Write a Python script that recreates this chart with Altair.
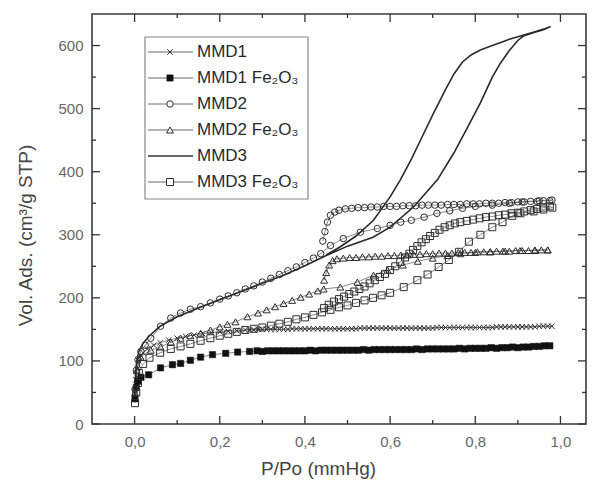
import altair as alt
import pandas as pd

# ---------------- data ----------------
series_names = ["MMD1", "MMD1 Fe₂O₃", "MMD2", "MMD2 Fe₂O₃", "MMD3", "MMD3 Fe₂O₃"]

# MMD1 (x markers)
mmd1_p_ads = [0.001, 0.003, 0.006, 0.01, 0.015, 0.02, 0.03, 0.045, 0.06, 0.08, 0.1, 0.12, 0.14, 0.16, 0.18,
              0.2, 0.22, 0.24,
              0.26, 0.28, 0.3, 0.32, 0.34, 0.36, 0.38, 0.4, 0.42, 0.44, 0.46, 0.48, 0.5, 0.52, 0.54, 0.56,
              0.58, 0.6, 0.62, 0.64, 0.66, 0.68, 0.7, 0.72, 0.74, 0.76, 0.78, 0.8, 0.82, 0.84, 0.86, 0.88,
              0.9, 0.92, 0.94, 0.96, 0.98]
mmd1_v_ads = [45, 70, 88, 100, 108, 113, 119, 125, 129, 133, 136, 139, 141, 143, 145, 146, 147, 148,
              149, 149, 150, 150, 150, 150, 151, 151, 151, 151, 151, 151, 151, 151, 152, 152,
              152, 152, 152, 152, 152, 152, 152, 153, 153, 153, 153, 153, 153, 153, 154, 154,
              154, 154, 154, 155, 155]
mmd1_p_des = [0.97, 0.95, 0.93, 0.91, 0.89, 0.87, 0.85, 0.83, 0.81, 0.79, 0.77, 0.75, 0.73, 0.71, 0.69,
              0.67, 0.65, 0.63, 0.61, 0.59, 0.57, 0.55, 0.53, 0.51, 0.49, 0.47, 0.45, 0.43, 0.41, 0.39,
              0.37, 0.35, 0.33, 0.31, 0.29, 0.27]
mmd1_v_des = [155, 155, 154, 154, 154, 154, 154, 153, 153, 153, 153, 153, 153, 153, 152,
              152, 152, 152, 152, 152, 152, 152, 152, 151, 151, 151, 151, 151, 151, 151,
              151, 150, 150, 150, 150, 149]

# MMD1 Fe2O3 (filled squares)
mmd1fe_p_ads = [0.001, 0.004, 0.008, 0.015, 0.033, 0.061, 0.089, 0.108, 0.131, 0.155, 0.183, 0.214, 0.242,
                0.27, 0.3, 0.325, 0.35, 0.375, 0.4, 0.425, 0.45, 0.475, 0.5, 0.525, 0.55, 0.575, 0.6, 0.625,
                0.65, 0.675, 0.7, 0.725, 0.75, 0.775, 0.8, 0.825, 0.85, 0.875, 0.9, 0.925, 0.95, 0.975]
mmd1fe_v_ads = [40, 58, 68, 74, 78, 89, 94, 96, 101, 106, 110, 112, 114,
                115, 115, 116, 116, 116, 116, 116, 117, 117, 117, 117, 117, 118, 118, 118,
                118, 118, 119, 119, 119, 119, 120, 120, 120, 121, 121, 122, 123, 124]
mmd1fe_p_des = [0.9625, 0.9375, 0.9125, 0.8875, 0.8625, 0.8375, 0.8125, 0.7875, 0.7625, 0.7375, 0.7125,
                0.6875, 0.6625, 0.6375, 0.6125, 0.5875, 0.5625, 0.5375, 0.5125, 0.4875, 0.4625, 0.4375,
                0.4125, 0.3875, 0.3625, 0.3375, 0.3125, 0.2875]
mmd1fe_v_des = [124, 123, 122, 122, 121, 121, 120, 120, 120, 119, 119,
                119, 119, 118, 118, 118, 118, 118, 117, 117, 117, 117,
                117, 116, 116, 116, 116, 116]

# MMD2 (open circles)
mmd2_p_ads = [0.001, 0.004, 0.008, 0.015, 0.025, 0.038, 0.061, 0.085, 0.108, 0.131, 0.155, 0.178, 0.2, 0.22,
              0.24, 0.26, 0.28, 0.3, 0.32, 0.34, 0.36, 0.38, 0.4, 0.42, 0.437, 0.46, 0.49, 0.53, 0.57, 0.6,
              0.625, 0.65, 0.68, 0.71, 0.74, 0.77, 0.8, 0.84, 0.88, 0.91, 0.95, 0.98]
mmd2_v_ads = [55, 85, 102, 115, 125, 136, 155, 168, 176, 182, 186, 192, 198, 203,
              208, 214, 219, 225, 231, 237, 243, 249, 256, 263, 270, 283, 294, 304, 310, 315,
              320, 323, 328, 334, 338, 342, 345, 347, 350, 352, 354, 355]
mmd2_p_des = [0.975, 0.96, 0.945, 0.93, 0.915, 0.9, 0.885, 0.87, 0.855, 0.84, 0.825, 0.81, 0.795, 0.78,
              0.765, 0.75, 0.735, 0.72, 0.705, 0.69, 0.675, 0.66, 0.645, 0.63, 0.615, 0.6, 0.585, 0.57,
              0.555, 0.54, 0.525, 0.51, 0.495, 0.48, 0.47, 0.46, 0.453, 0.447, 0.442]
mmd2_v_des = [354, 354, 353, 353, 352, 352, 351, 351, 350, 350, 350, 349, 349, 349,
              348, 348, 348, 347, 347, 347, 347, 346, 346, 346, 345, 345, 345, 344,
              344, 343, 343, 342, 341, 339, 336, 331, 320, 305, 290]

# MMD2 Fe2O3 (open triangles)
mmd2fe_p_ads = [0.001, 0.005, 0.014, 0.038, 0.061, 0.085, 0.108, 0.131, 0.155, 0.178, 0.2, 0.218, 0.237,
                0.265, 0.29, 0.31, 0.33, 0.35, 0.37, 0.39, 0.41, 0.43, 0.444, 0.483, 0.523, 0.561, 0.594,
                0.63, 0.665, 0.7, 0.735, 0.765, 0.8, 0.835, 0.87, 0.905, 0.94, 0.97]
mmd2fe_v_ads = [50, 85, 106, 117, 122, 130, 136, 140, 144, 149, 154, 158, 162,
                170, 176, 181, 186, 191, 196, 201, 206, 211, 214, 217, 225, 236, 244,
                252, 258, 263, 267, 270, 272, 273, 274, 275, 275, 276]
mmd2fe_p_des = [0.97, 0.955, 0.94, 0.925, 0.91, 0.895, 0.88, 0.865, 0.85, 0.835, 0.82, 0.805, 0.79, 0.775,
                0.76, 0.745, 0.73, 0.715, 0.7, 0.685, 0.67, 0.655, 0.64, 0.625, 0.61, 0.595, 0.58, 0.565,
                0.55, 0.535, 0.52, 0.505, 0.49, 0.475, 0.465, 0.457, 0.45, 0.445]
mmd2fe_v_des = [276, 276, 276, 275, 275, 275, 274, 274, 274, 273, 273, 273, 272, 272,
                272, 271, 271, 271, 270, 270, 269, 269, 268, 268, 267, 267, 266, 266,
                265, 265, 264, 264, 263, 262, 259, 252, 240, 228]

# MMD3 (solid line)
mmd3_p_ads = [0.0, 0.002, 0.005, 0.01, 0.02, 0.035, 0.06, 0.1, 0.15, 0.2, 0.25, 0.3, 0.35, 0.4, 0.45, 0.5,
              0.56, 0.6, 0.655, 0.711, 0.75, 0.78, 0.812, 0.84, 0.859, 0.88, 0.9, 0.913, 0.94, 0.96, 0.977]
mmd3_v_ads = [40, 75, 100, 115, 128, 140, 155, 170, 184, 197, 210, 223, 236, 251, 267, 282,
              296, 312, 344, 387, 430, 468, 509, 550, 572, 592, 608, 615, 621, 625, 630]
mmd3_p_des = [0.977, 0.96, 0.94, 0.92, 0.9, 0.88, 0.86, 0.84, 0.812, 0.79, 0.77, 0.75, 0.73, 0.7, 0.675,
              0.65, 0.624, 0.6, 0.561, 0.52, 0.483, 0.45]
mmd3_v_des = [630, 626, 622, 618, 614, 610, 605, 600, 593, 585, 574, 555, 530, 490, 455,
              420, 387, 360, 323, 298, 281, 268]

# MMD3 Fe2O3 (open squares)
mmd3fe_p_ads = [0.001, 0.004, 0.008, 0.01, 0.02, 0.035, 0.06, 0.085, 0.108, 0.131, 0.155, 0.178, 0.2, 0.22,
                0.24, 0.26, 0.28, 0.3, 0.32, 0.34, 0.36, 0.38, 0.4, 0.42, 0.44, 0.46, 0.48, 0.5, 0.52,
                0.54, 0.56, 0.58, 0.6, 0.632, 0.664, 0.688, 0.714, 0.738, 0.762, 0.785, 0.812, 0.84,
                0.864, 0.887, 0.906, 0.937, 0.96, 0.981]
mmd3fe_v_ads = [33, 50, 65, 81, 95, 105, 113, 119, 123, 127, 132, 136, 140, 143,
                146, 149, 151, 153, 156, 159, 162, 166, 169, 173, 177, 181, 185, 188, 192,
                196, 200, 204, 208, 217, 228, 237, 249, 260, 273, 289, 300, 312,
                320, 330, 334, 337, 340, 343]
mmd3fe_p_des = [0.975, 0.96, 0.945, 0.93, 0.915, 0.9, 0.885, 0.87, 0.855, 0.84, 0.825, 0.81, 0.795, 0.78,
                0.765, 0.752, 0.74, 0.728, 0.716, 0.705, 0.694, 0.684, 0.674, 0.664, 0.654, 0.645, 0.635,
                0.624, 0.612, 0.6, 0.588, 0.576, 0.564, 0.552, 0.54, 0.528, 0.516, 0.504, 0.492, 0.48,
                0.468, 0.456, 0.445]
mmd3fe_v_des = [345, 343, 341, 339, 337, 335, 334, 332, 331, 329, 328, 326, 324, 322,
                320, 318, 315, 312, 308, 303, 298, 293, 288, 282, 276, 270, 264,
                257, 250, 244, 238, 233, 228, 223, 218, 214, 210, 206, 202, 198,
                194, 189, 184]

# axis ticks
x_major = [0.0, 0.2, 0.4, 0.6, 0.8, 1.0]
x_minor = [0.1, 0.3, 0.5, 0.7, 0.9]
y_major = [0, 100, 200, 300, 400, 500, 600]
y_minor = [50, 150, 250, 350, 450, 550]

# ---------------- build table ----------------
branches = {
    "MMD1": (mmd1_p_ads, mmd1_v_ads, mmd1_p_des, mmd1_v_des),
    "MMD1 Fe₂O₃": (mmd1fe_p_ads, mmd1fe_v_ads, mmd1fe_p_des, mmd1fe_v_des),
    "MMD2": (mmd2_p_ads, mmd2_v_ads, mmd2_p_des, mmd2_v_des),
    "MMD2 Fe₂O₃": (mmd2fe_p_ads, mmd2fe_v_ads, mmd2fe_p_des, mmd2fe_v_des),
    "MMD3": (mmd3_p_ads, mmd3_v_ads, mmd3_p_des, mmd3_v_des),
    "MMD3 Fe₂O₃": (mmd3fe_p_ads, mmd3fe_v_ads, mmd3fe_p_des, mmd3fe_v_des),
}
rows = []
for name, (pa, va, pd_, vd) in branches.items():
    assert len(pa) == len(va), (name, len(pa), len(va))
    assert len(pd_) == len(vd), (name, len(pd_), len(vd))
    k = 0
    for p, v in list(zip(pa, va)) + list(zip(pd_, vd)):
        rows.append({"series": name, "P": p, "V": v, "order": k})
        k += 1
df = pd.DataFrame(rows)

FONT = "Liberation Sans"
INK = "#2e2e2e"
W, H = 494, 410

x_enc = alt.X("P:Q", scale=alt.Scale(domain=[-0.1, 1.06], nice=False, zero=False),
              axis=alt.Axis(values=x_major, labelExpr="replace(format(datum.value, '.1f'), '.', ',')",
                            ticks=False, domain=False, grid=False, labelPadding=10,
                            title="P/Po (mmHg)", titleX=226, titleY=50, titleBaseline="alphabetic",
                            titleAlign="center", titleFontSize=19))
y_enc = alt.Y("V:Q", scale=alt.Scale(domain=[0, 650], nice=False),
              axis=alt.Axis(values=y_major, format="d", ticks=False, domain=False, grid=False,
                            labelPadding=9, title="Vol. Ads. (cm³/g STP)", titleX=-61, titleY=221,
                            titleAngle=270, titleBaseline="alphabetic", titleAlign="center",
                            titleFontSize=19))

styles = {
    "MMD1": dict(shape="M-1,-1L1,1M-1,1L1,-1", filled=False, size=30),
    "MMD1 Fe₂O₃": dict(shape="square", filled=True, size=40),
    "MMD2": dict(shape="circle", filled=False, size=42),
    "MMD2 Fe₂O₃": dict(shape="triangle-up", filled=False, size=48),
    "MMD3 Fe₂O₃": dict(shape="square", filled=False, size=49),
}

base = alt.Chart(df)
layers = []
layers.append(
    base.transform_filter(alt.datum.series != "MMD3")
    .mark_line(strokeWidth=0.7, color="#555555")
    .encode(x=x_enc, y=y_enc, detail="series:N", order="order:Q")
)
layers.append(
    base.transform_filter(alt.datum.series == "MMD3")
    .mark_line(strokeWidth=1.6, color="#2a2a2a")
    .encode(x=x_enc, y=y_enc, order="order:Q")
)
for name, st in styles.items():
    sub = base.transform_filter(alt.datum.series == name)
    if st["filled"]:
        m = sub.mark_point(shape=st["shape"], filled=True, fill="#111111", stroke="#111111",
                           strokeWidth=0.5, size=st["size"], opacity=1)
    else:
        m = sub.mark_point(shape=st["shape"], filled=False, stroke=INK,
                           strokeWidth=1.0, size=st["size"], opacity=1)
    layers.append(m.encode(x=x_enc, y=y_enc))

# inward ticks (bottom/top/left/right)
tick_col = "#333333"
xt_major = alt.Chart(pd.DataFrame({"P": x_major}))
xt_minor = alt.Chart(pd.DataFrame({"P": x_minor}))
yt_major = alt.Chart(pd.DataFrame({"V": y_major}))
yt_minor = alt.Chart(pd.DataFrame({"V": y_minor}))
for src, ln in ((xt_major, 8), (xt_minor, 4)):
    layers.append(src.mark_rule(color=tick_col, strokeWidth=1.3).encode(x=x_enc, y=alt.value(H), y2=alt.value(H - ln)))
    layers.append(src.mark_rule(color=tick_col, strokeWidth=1.3).encode(x=x_enc, y=alt.value(0), y2=alt.value(ln)))
for src, ln in ((yt_major, 8), (yt_minor, 4)):
    layers.append(src.mark_rule(color=tick_col, strokeWidth=1.3).encode(y=y_enc, x=alt.value(0), x2=alt.value(ln)))
    layers.append(src.mark_rule(color=tick_col, strokeWidth=1.3).encode(y=y_enc, x=alt.value(W), x2=alt.value(W - ln)))

# legend
one = pd.DataFrame({"a": [0]})
layers.append(
    alt.Chart(one).mark_rect(fill="white", stroke="#888888", strokeWidth=1.2)
    .encode(x=alt.value(53), x2=alt.value(216), y=alt.value(23), y2=alt.value(185))
)
for i, name in enumerate(series_names):
    yy = 38 + 26 * i
    lw = 1.6 if name == "MMD3" else 0.9
    layers.append(alt.Chart(one).mark_rule(color="#333333" if name == "MMD3" else "#555555", strokeWidth=lw)
                  .encode(x=alt.value(56), x2=alt.value(101), y=alt.value(yy)))
    if name in styles:
        st = styles[name]
        if st["filled"]:
            pt = alt.Chart(one).mark_point(shape=st["shape"], filled=True, fill="#111111", stroke="#111111",
                                           strokeWidth=0.5, size=st["size"], opacity=1)
        else:
            pt = alt.Chart(one).mark_point(shape=st["shape"], filled=True, fill="white", stroke=INK,
                                           strokeWidth=1.0, size=st["size"], opacity=1)
        layers.append(pt.encode(x=alt.value(78), y=alt.value(yy)))
    layers.append(alt.Chart(pd.DataFrame({"name": [name]}))
                  .mark_text(align="left", baseline="middle", font=FONT, fontSize=17, color="#2a2a2a")
                  .encode(x=alt.value(105), y=alt.value(yy), text="name:N"))

chart = (
    alt.layer(*layers)
    .properties(width=W, height=H, autosize="none",
                padding={"left": 84, "top": 6, "right": 1, "bottom": 56})
    .configure_view(stroke="#3a3a3a", strokeWidth=1.6)
    .configure_axis(labelFont=FONT, titleFont=FONT, labelFontSize=15, labelColor="#666666",
                    titleColor="#444444", titleFontWeight="normal")
)

chart.save("out.html", embed_options={"renderer": "svg", "actions": False})
